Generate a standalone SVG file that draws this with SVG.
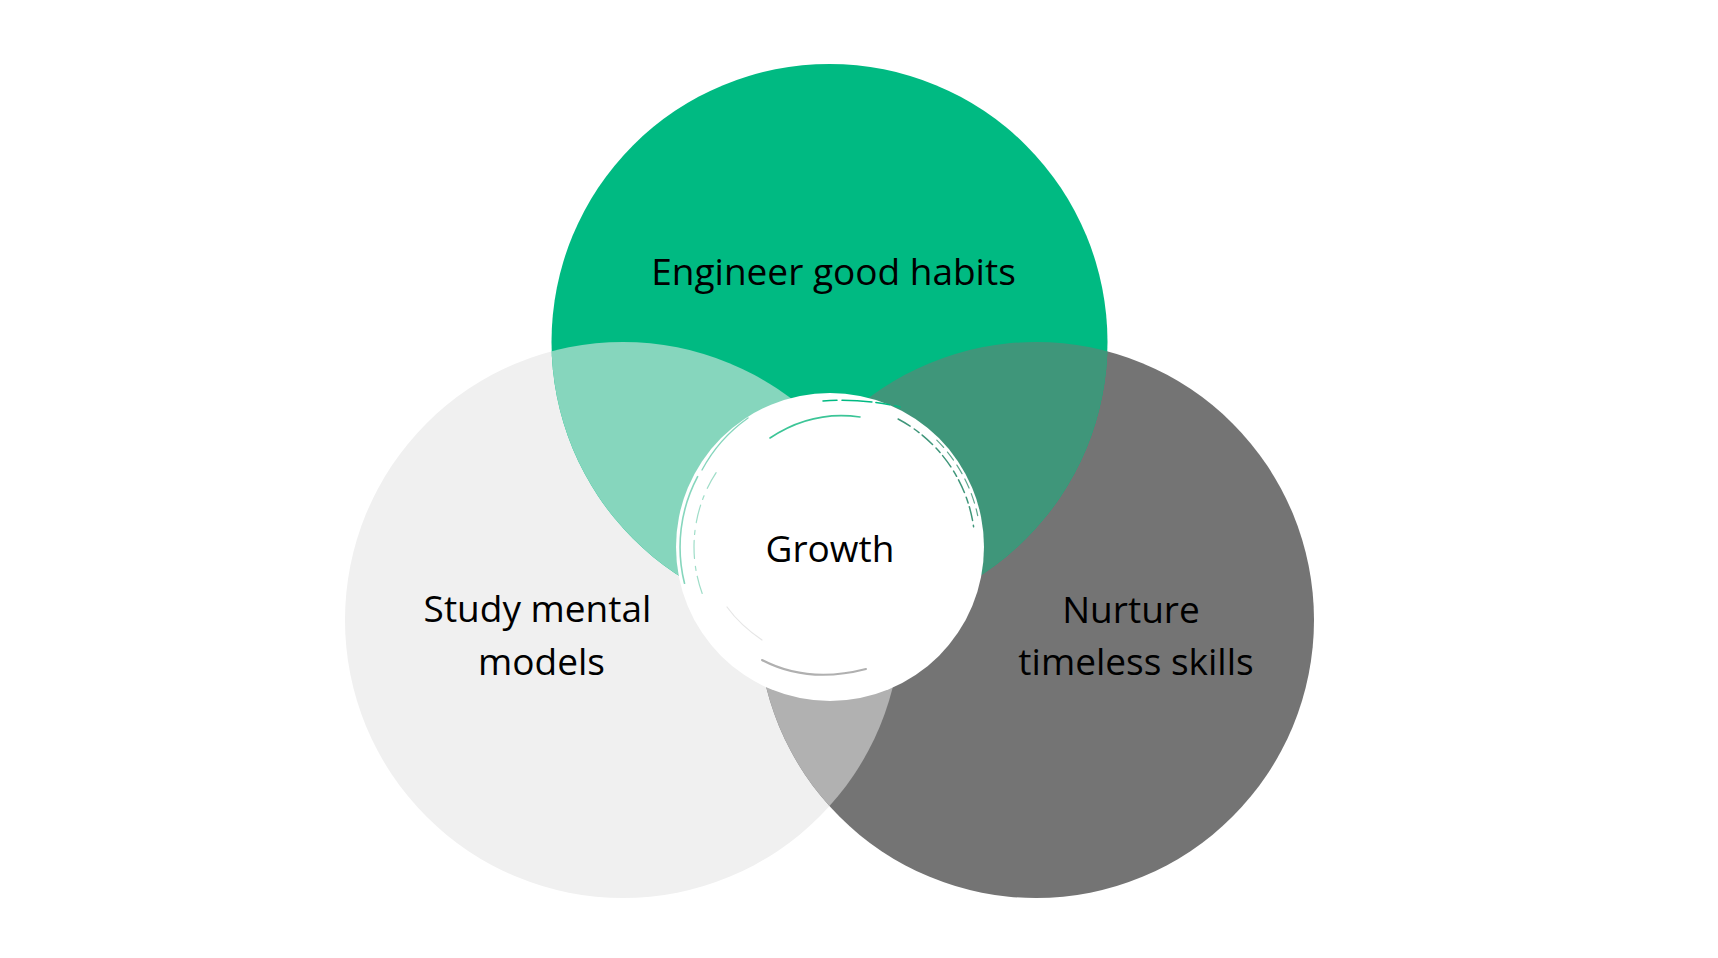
<svg xmlns="http://www.w3.org/2000/svg" width="1718" height="958" viewBox="0 0 1718 958">
  <style>
    .lbl { font-family: "Open Sans", "Noto Sans", "DejaVu Sans", sans-serif; font-size: 37px; fill: #000000; text-anchor: middle; }
    .sliver { fill: none; stroke-linecap: round; }
  </style>
  <defs>
    <clipPath id="clipG"><circle cx="829.5" cy="342" r="278"/></clipPath>
    <clipPath id="clipR"><circle cx="1036" cy="620" r="278"/></clipPath>
  </defs>
  <rect x="0" y="0" width="1718" height="958" fill="#ffffff"/>

  <g id="node-models">
    <circle cx="623" cy="620" r="278" fill="#F0F0F0"/>
  </g>
  <g id="node-skills">
    <circle cx="1036" cy="620" r="278" fill="#747474"/>
  </g>
  <g id="node-habits">
    <circle cx="829.5" cy="342" r="278" fill="#00BA82"/>
  </g>

  <g id="overlaps">
    <circle cx="623" cy="620" r="278" fill="#B1B1B1" clip-path="url(#clipR)"/>
    <circle cx="623" cy="620" r="278" fill="#86D6BD" clip-path="url(#clipG)"/>
    <circle cx="1036" cy="620" r="278" fill="#3F967A" clip-path="url(#clipG)"/>
  </g>

  <g id="node-growth">
    <circle cx="830" cy="547" r="154" fill="#ffffff"/>
    <path class="sliver" d="M684.5,583.3 A150,150 0 0 1 697.6,476.6" stroke="#86D6BD" stroke-width="1.6"/>
    <path class="sliver" d="M702,470 A151,151 0 0 1 748,418" stroke="#86D6BD" stroke-width="1.4"/>
    <path class="sliver" d="M702.2,593.5 A136,136 0 0 1 718.6,469" stroke="#9FDDC8" stroke-width="1.2" stroke-dasharray="18 6 4 8"/>
    <path class="sliver" d="M770,438 Q812,410 860,417" stroke="#3CC597" stroke-width="1.6"/>
    <path class="sliver" d="M823,401 Q862,398 900,407" stroke="#00BA82" stroke-width="1.5" stroke-dasharray="14 5 30 4"/>
    <path class="sliver" d="M898.1,419 A145,145 0 0 1 973.6,526.8" stroke="#3F967A" stroke-width="1.5" stroke-dasharray="14 5 6 4"/>
    <path class="sliver" d="M936.8,440.2 A151,151 0 0 1 977.7,515.6" stroke="#5FA78E" stroke-width="1.2" stroke-dasharray="10 6"/>
    <path class="sliver" d="M762,660 Q808,684 866,669" stroke="#B0B0B0" stroke-width="2"/>
    <path class="sliver" d="M727,607 Q740,625 762,640" stroke="#E6E6E6" stroke-width="1.2"/>
    <text class="lbl" x="830" y="562">Growth</text>
  </g>

  <g id="labels">
    <text class="lbl" x="833.5" y="285">Engineer good habits</text>
    <text class="lbl" x="537.5" y="622">Study mental</text>
    <text class="lbl" x="541.5" y="675">models</text>
    <text class="lbl" x="1131" y="623">Nurture</text>
    <text class="lbl" x="1136" y="675">timeless skills</text>
  </g>
</svg>
